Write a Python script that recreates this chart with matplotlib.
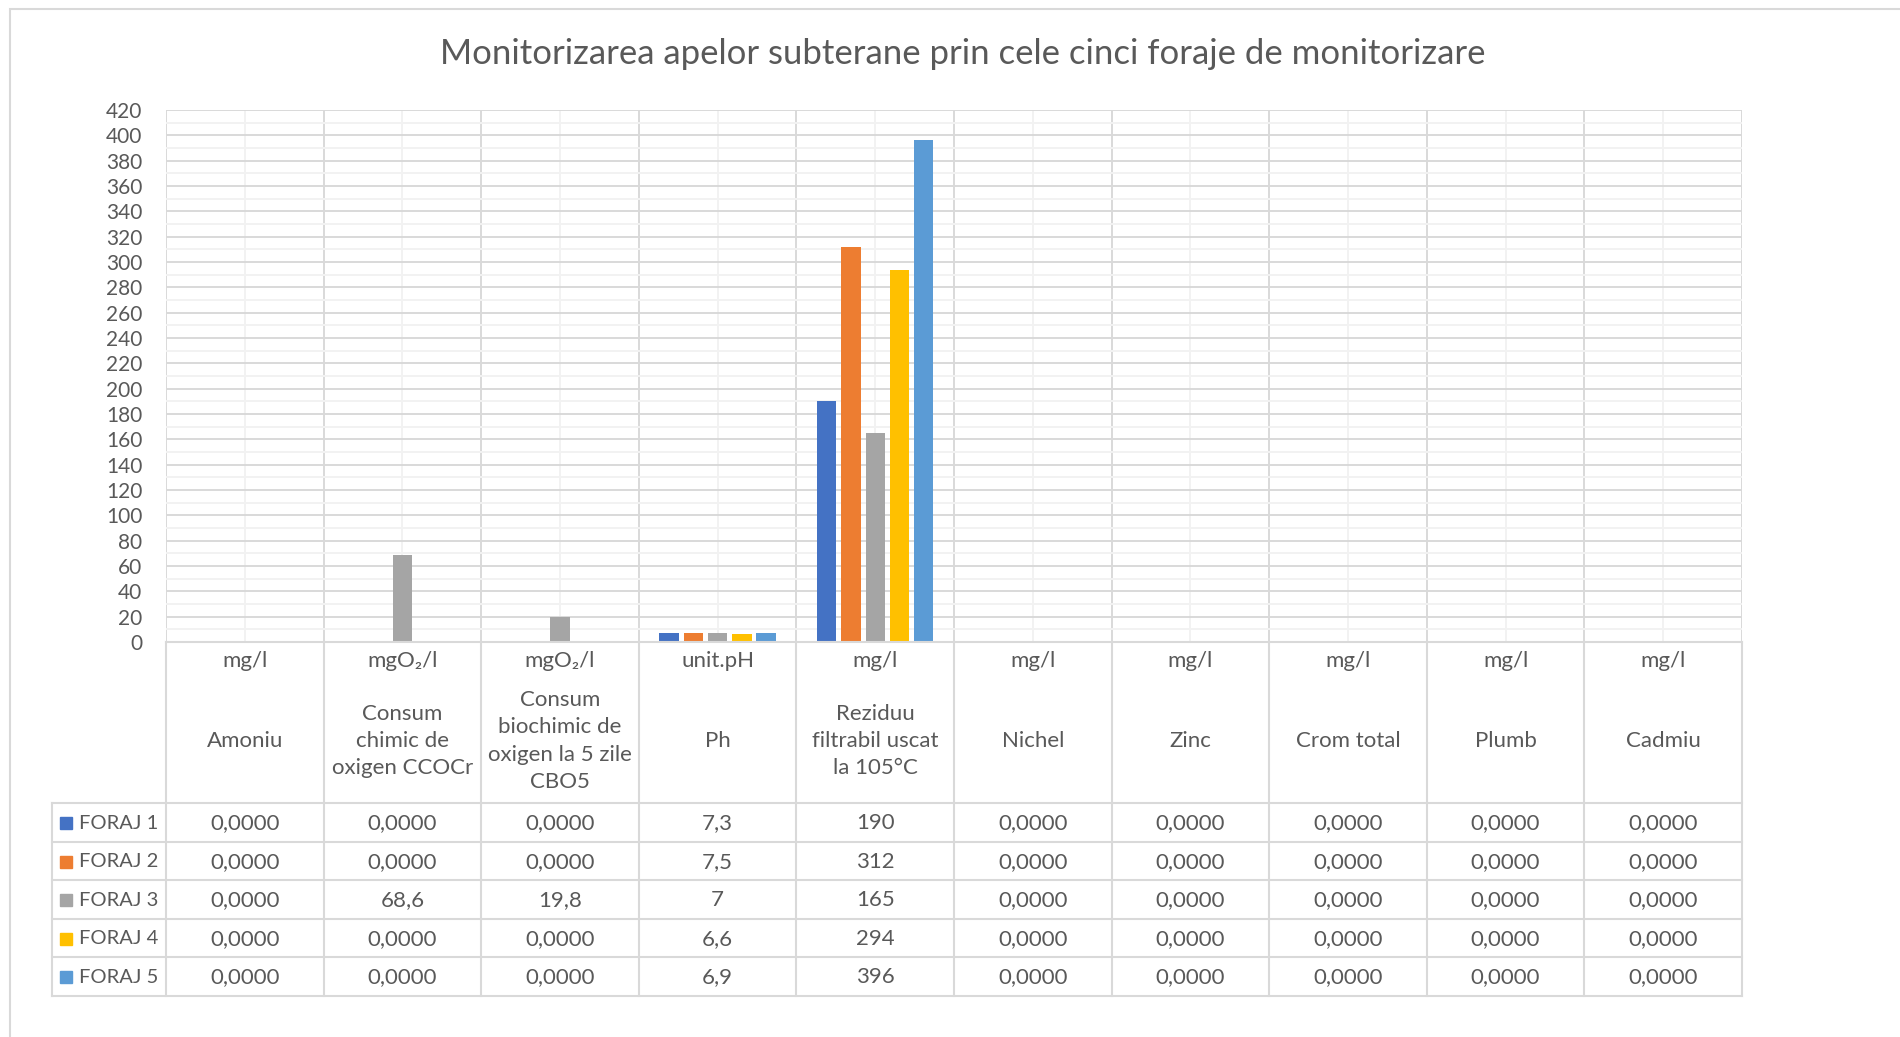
import matplotlib
matplotlib.use('Agg')
import matplotlib.pyplot as plt
import matplotlib.patches as mpatches
import numpy as np

plt.rcParams['font.family'] = ['Lato', 'DejaVu Sans']

units = ['mg/l', 'mgO₂/l', 'mgO₂/l', 'unit.pH', 'mg/l',
         'mg/l', 'mg/l', 'mg/l', 'mg/l', 'mg/l']
names = ['Amoniu', 'Consum\nchimic de\noxigen CCOCr',
         'Consum\nbiochimic de\noxigen la 5 zile\nCBO5', 'Ph',
         'Reziduu\nfiltrabil uscat\nla 105°C', 'Nichel', 'Zinc',
         'Crom total', 'Plumb', 'Cadmiu']
series = ['FORAJ 1', 'FORAJ 2', 'FORAJ 3', 'FORAJ 4', 'FORAJ 5']
foraj1 = [0, 0, 0, 7.3, 190, 0, 0, 0, 0, 0]
foraj2 = [0, 0, 0, 7.5, 312, 0, 0, 0, 0, 0]
foraj3 = [0, 68.6, 19.8, 7, 165, 0, 0, 0, 0, 0]
foraj4 = [0, 0, 0, 6.6, 294, 0, 0, 0, 0, 0]
foraj5 = [0, 0, 0, 6.9, 396, 0, 0, 0, 0, 0]
colors = ['#4472C4', '#ED7D31', '#A5A5A5', '#FFC000', '#5B9BD5']

TXT = '#595959'
LINE = '#D9D9D9'
W, H_PX = 1900, 1037
FS = 16


def fmt(v):
    if v == 0:
        return '0,0000'
    return f'{v:g}'.replace('.', ',')


fig = plt.figure(figsize=(19, 10.37), dpi=100)

# outer chart border (left and top visible)
fig.add_artist(mpatches.Rectangle((10 / W, -0.1), 2, 1 - 9 / H_PX + 0.1,
                                  transform=fig.transFigure, fill=False,
                                  ec=LINE, lw=1.5))

fig.text(963 / W, 1 - 53.5 / H_PX,
         'Monitorizarea apelor subterane prin cele cinci foraje de monitorizare',
         ha='center', va='center', fontsize=25, color=TXT)

left, right, top, bottom = 166, 1742, 110, 642
ax = fig.add_axes([left / W, 1 - bottom / H_PX, (right - left) / W, (bottom - top) / H_PX])

x = np.arange(len(units))
data = [foraj1, foraj2, foraj3, foraj4, foraj5]
step, bw = 0.154, 0.1225
for j, vals in enumerate(data):
    ax.bar(x + (j - 2) * step, vals, bw, color=colors[j], zorder=3)

ax.set_xlim(-0.5, 9.5)
ax.set_ylim(0, 420)
ax.set_yticks(np.arange(0, 421, 20))
ax.set_yticks(np.arange(10, 420, 20), minor=True)
ax.set_xticks(np.arange(-0.5, 10, 1))
ax.set_xticks(x, minor=True)
ax.grid(which='major', color=LINE, lw=1.4)
ax.grid(which='minor', color='#F2F2F2', lw=1.4)
ax.set_axisbelow(True)
ax.tick_params(axis='y', which='both', length=0, pad=17, labelsize=15, labelcolor=TXT)
ax.tick_params(axis='x', which='both', length=0, labelbottom=False)
for s in ax.spines.values():
    s.set_visible(False)

# data table below the plot
tb_bottom = 996
hdr = (803 - 642) / 38.6
tax = fig.add_axes([left / W, 1 - tb_bottom / H_PX, (right - left) / W, (tb_bottom - bottom) / H_PX])
tax.set_xlim(-0.5, 9.5)
tax.set_ylim(hdr + 5, 0)
tax.axis('off')
leg_left = -0.5 - (166 - 52) / 157.6

kw = dict(color=LINE, lw=1.5, clip_on=False, solid_capstyle='projecting')
tax.plot([-0.5, 9.5], [0, 0], **kw)
for i in range(6):
    tax.plot([leg_left, 9.5], [hdr + i, hdr + i], **kw)
for k in range(11):
    tax.plot([k - 0.5, k - 0.5], [0, hdr + 5], **kw)
tax.plot([leg_left, leg_left], [hdr, hdr + 5], **kw)

for k in range(len(units)):
    tax.text(k, (661 - 642) / 38.6, units[k], ha='center', va='center',
             fontsize=FS, color=TXT)
    tax.text(k, (741 - 642) / 38.6, names[k], ha='center', va='center',
             fontsize=FS, color=TXT, linespacing=1.45, multialignment='center')

for i, vals in enumerate(data):
    yy = hdr + i + 0.52
    tax.plot([leg_left + 14 / 157.6], [yy], marker='s', ms=8, color=colors[i],
             clip_on=False, ls='none')
    tax.text(leg_left + 27 / 157.6, yy, series[i], ha='left', va='center',
             fontsize=14.5, color=TXT)
    for k, v in enumerate(vals):
        tax.text(k, yy, fmt(v), ha='center', va='center', fontsize=FS, color=TXT)

fig.savefig('out.png', dpi=100, facecolor='white')
